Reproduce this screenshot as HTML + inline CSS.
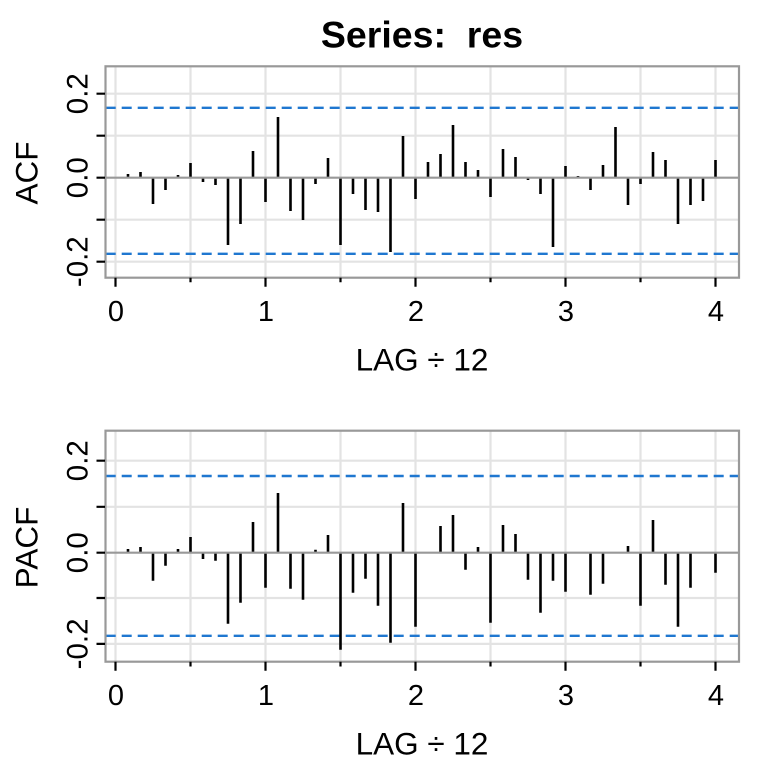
<!DOCTYPE html>
<html>
<head>
<meta charset="utf-8">
<style>
html,body{margin:0;padding:0;background:#fff;}
svg{display:block;}
text{font-family:"Liberation Sans",Arial,sans-serif;fill:#000;}
</style>
</head>
<body>
<svg width="768" height="768" viewBox="0 0 768 768" xmlns="http://www.w3.org/2000/svg">
<rect width="768" height="768" fill="#fff"/>

<!-- Title -->
<text x="422" y="47.3" font-size="37.5" font-weight="bold" text-anchor="middle" xml:space="preserve">Series:  res</text>

<!-- ================= TOP PANEL (ACF) ================= -->
<g stroke="#e3e3e3" stroke-width="2.2" fill="none">
  <path d="M115.5 66.3V277.7M190.5 66.3V277.7M265.5 66.3V277.7M340.5 66.3V277.7M415.5 66.3V277.7M490.5 66.3V277.7M565.5 66.3V277.7M640.5 66.3V277.7M715.5 66.3V277.7"/>
  <path d="M105.5 93.7H739M105.5 135.7H739M105.5 219.7H739M105.5 261.7H739"/>
</g>
<!-- dashed limits -->
<g stroke="#1f77d0" stroke-width="2.4" stroke-dasharray="10 6" fill="none">
  <path d="M105.7 107.8H739"/>
  <path d="M105.7 253.8H739"/>
</g>
<!-- bars -->
<path stroke="#000" stroke-width="2.6" fill="none" d="
M128 177.7V174 M140.5 177.7V172 M153 177.7V204 M165.5 177.7V190 M178 177.7V175 M190.5 177.7V163
M203 177.7V182 M215.5 177.7V185 M228 177.7V245 M240.5 177.7V224 M253 177.7V151 M265.5 177.7V202
M278 177.7V117 M290.5 177.7V211 M303 177.7V220 M315.5 177.7V184 M328 177.7V158 M340.5 177.7V245
M353 177.7V194 M365.5 177.7V210 M378 177.7V212 M390.5 177.7V252 M403 177.7V136 M415.5 177.7V199
M428 177.7V162 M440.5 177.7V154 M453 177.7V125 M465.5 177.7V162 M478 177.7V170 M490.5 177.7V197
M503 177.7V149 M515.5 177.7V157 M528 177.7V180 M540.5 177.7V194 M553 177.7V247 M565.5 177.7V166
M578 177.7V176 M590.5 177.7V190 M603 177.7V165 M615.5 177.7V127 M628 177.7V205 M640.5 177.7V184
M653 177.7V152 M665.5 177.7V160 M678 177.7V224 M690.5 177.7V205 M703 177.7V201 M715.5 177.7V160"/>
<!-- zero line -->
<path stroke="#999" stroke-width="2.2" d="M105.5 177.7H739"/>
<!-- box -->
<rect x="105.5" y="66.3" width="633.5" height="211.4" fill="none" stroke="#999" stroke-width="2.2"/>
<!-- ticks -->
<g stroke="#000" stroke-width="2.2" fill="none">
  <path d="M115.5 277.7V286.7M265.5 277.7V286.7M415.5 277.7V286.7M565.5 277.7V286.7M715.5 277.7V286.7"/>
  <path d="M190.5 277.7V282.3M340.5 277.7V282.3M490.5 277.7V282.3M640.5 277.7V282.3"/>
  <path d="M96.5 93.7H105M96.5 135.7H105M96.5 177.7H105M96.5 219.7H105M96.5 261.7H105"/>
</g>
<!-- tick labels -->
<g font-size="29" text-anchor="middle">
  <text x="116" y="321">0</text>
  <text x="266" y="321">1</text>
  <text x="416" y="321">2</text>
  <text x="566" y="321">3</text>
  <text x="716" y="321">4</text>
</g>
<g font-size="29.5" text-anchor="middle">
  <text transform="translate(87.3,93.7) rotate(-90)">0.2</text>
  <text transform="translate(87.3,177.7) rotate(-90)">0.0</text>
  <text transform="translate(87.3,261.7) rotate(-90)">-0.2</text>
</g>
<text x="422" y="370.7" font-size="31.5" text-anchor="middle">LAG ÷ 12</text>
<text transform="translate(37.3,173) rotate(-90)" font-size="31.5" text-anchor="middle">ACF</text>

<!-- ================= BOTTOM PANEL (PACF) ================= -->
<g stroke="#e3e3e3" stroke-width="2.2" fill="none">
  <path d="M115.5 430.7V661.7M190.5 430.7V661.7M265.5 430.7V661.7M340.5 430.7V661.7M415.5 430.7V661.7M490.5 430.7V661.7M565.5 430.7V661.7M640.5 430.7V661.7M715.5 430.7V661.7"/>
  <path d="M105.5 460.7H739M105.5 506.8H739M105.5 598H739M105.5 643.9H739"/>
</g>
<g stroke="#1f77d0" stroke-width="2.4" stroke-dasharray="10 6" fill="none">
  <path d="M105.7 476H739"/>
  <path d="M105.7 635.8H739"/>
</g>
<path stroke="#000" stroke-width="2.6" fill="none" d="
M128 552.7V549 M140.5 552.7V547 M153 552.7V580.7 M165.5 552.7V565.7 M178 552.7V549 M190.5 552.7V537
M203 552.7V559 M215.5 552.7V560.7 M228 552.7V623.7 M240.5 552.7V602.7 M253 552.7V522 M265.5 552.7V587.7
M278 552.7V493 M290.5 552.7V588.7 M303 552.7V599.7 M315.5 552.7V549.7 M328 552.7V535 M340.5 552.7V649.7
M353 552.7V592.7 M365.5 552.7V578.7 M378 552.7V605.7 M390.5 552.7V642.7 M403 552.7V503 M415.5 552.7V626.7
M440.5 552.7V526 M453 552.7V515 M465.5 552.7V569.7 M478 552.7V547 M490.5 552.7V622.7
M503 552.7V525 M515.5 552.7V534 M528 552.7V579.7 M540.5 552.7V612.7 M553 552.7V580.7 M565.5 552.7V591.7
M590.5 552.7V594.7 M603 552.7V583.7 M628 552.7V546 M640.5 552.7V605.7
M653 552.7V520 M665.5 552.7V584.7 M678 552.7V626.7 M690.5 552.7V587.7 M715.5 552.7V572.7"/>
<path stroke="#999" stroke-width="2.2" d="M105.5 552.7H739"/>
<rect x="105.5" y="430.7" width="633.5" height="231" fill="none" stroke="#999" stroke-width="2.2"/>
<g stroke="#000" stroke-width="2.2" fill="none">
  <path d="M115.5 661.7V670.7M265.5 661.7V670.7M415.5 661.7V670.7M565.5 661.7V670.7M715.5 661.7V670.7"/>
  <path d="M190.5 661.7V666.5M340.5 661.7V666.5M490.5 661.7V666.5M640.5 661.7V666.5"/>
  <path d="M96.5 460.7H105M96.5 506.8H105M96.5 552.7H105M96.5 598H105M96.5 643.9H105"/>
</g>
<g font-size="29" text-anchor="middle">
  <text x="116" y="705">0</text>
  <text x="266" y="705">1</text>
  <text x="416" y="705">2</text>
  <text x="566" y="705">3</text>
  <text x="716" y="705">4</text>
</g>
<g font-size="29.5" text-anchor="middle">
  <text transform="translate(87.3,460.7) rotate(-90)">0.2</text>
  <text transform="translate(87.3,552.7) rotate(-90)">0.0</text>
  <text transform="translate(87.3,643.9) rotate(-90)">-0.2</text>
</g>
<text x="422" y="754.7" font-size="31.5" text-anchor="middle">LAG ÷ 12</text>
<text transform="translate(37.3,547.5) rotate(-90)" font-size="31.5" text-anchor="middle">PACF</text>
</svg>
</body>
</html>
